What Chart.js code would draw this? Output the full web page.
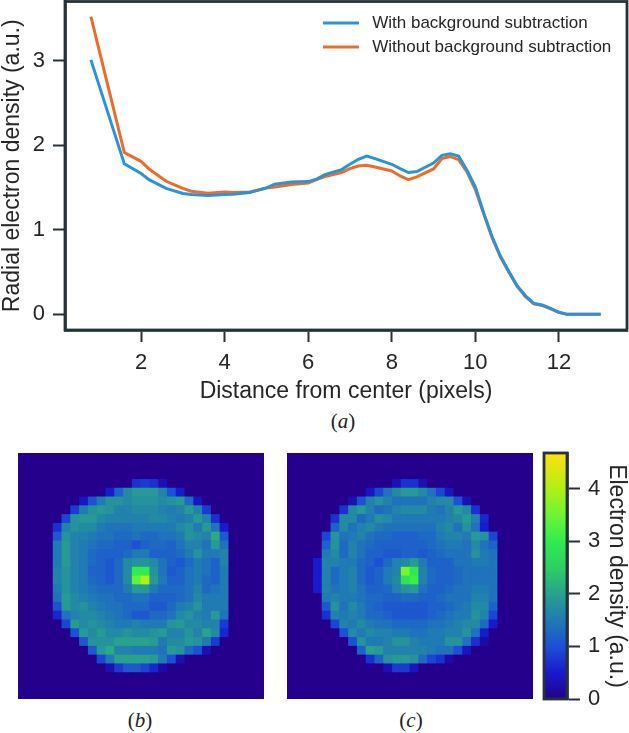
<!DOCTYPE html>
<html>
<head>
<meta charset="utf-8">
<title>Radial electron density</title>
<script src="https://cdn.jsdelivr.net/npm/chart.js@4"></script>
<style>
    html, body { margin: 0; padding: 0; background: #fff; }
    #page { position: relative; width: 629px; height: 733px; overflow: hidden; }
    #page canvas { position: absolute; }
    #mapB, #mapC { background: #24008c; }
    .caption { position: absolute; width: 40px; margin-left: -20px; text-align: center; font: 21px "Liberation Serif", serif; color: #222; line-height: 22px; }
</style>
</head>
<body>
<div id="page">
    <div style="position:absolute;left:0;top:0;width:629px;height:405px"><canvas id="profileChart"></canvas></div>
    <div style="position:absolute;left:18px;top:453px;width:246px;height:246px"><canvas id="mapB"></canvas></div>
    <div style="position:absolute;left:287px;top:453px;width:246px;height:246px"><canvas id="mapC"></canvas></div>
    <div style="position:absolute;left:530px;top:445px;width:99px;height:288px"><canvas id="colorbar"></canvas></div>
    <div class="caption" style="left:343px;top:410px">(<i>a</i>)</div>
    <div class="caption" style="left:140px;top:709px">(<i>b</i>)</div>
    <div class="caption" style="left:411px;top:709px">(<i>c</i>)</div>
</div>
<script>
// Radial profile
const radius = [0.8, 1.6, 2.0, 2.2, 2.6, 3.0, 3.2, 3.6, 4.0, 4.2, 4.6, 5.0, 5.2, 5.6, 6.0, 6.2, 6.4, 6.8, 7.0, 7.2, 7.4, 7.6, 8.0, 8.2, 8.4, 8.6, 9.0, 9.2, 9.4, 9.6, 9.8, 10.0, 10.2, 10.4, 10.6, 10.8, 11.0, 11.2, 11.4, 11.6, 11.8, 12.0, 12.2, 13.0];
const withBackground = [3.01, 1.78, 1.665, 1.59, 1.49, 1.43, 1.417, 1.405, 1.417, 1.42, 1.44, 1.495, 1.539, 1.566, 1.57, 1.60, 1.653, 1.712, 1.775, 1.834, 1.873, 1.842, 1.775, 1.724, 1.677, 1.689, 1.79, 1.88, 1.90, 1.873, 1.704, 1.507, 1.20, 0.92, 0.69, 0.51, 0.34, 0.22, 0.13, 0.11, 0.07, 0.025, 0.0, 0.0];
const withoutBackground = [3.52, 1.913, 1.81, 1.716, 1.574, 1.49, 1.456, 1.433, 1.448, 1.44, 1.448, 1.495, 1.507, 1.535, 1.554, 1.594, 1.63, 1.677, 1.724, 1.755, 1.763, 1.743, 1.696, 1.637, 1.594, 1.625, 1.72, 1.842, 1.866, 1.83, 1.684, 1.476, 1.19, 0.91, 0.68, 0.50, 0.33, 0.21, 0.125, 0.105, 0.065, 0.025, 0.0, 0.0];
const xTicks = [2, 4, 6, 8, 10, 12];
const yTicks = [0, 1, 2, 3];
const barTicks = [0, 1, 2, 3, 4];

// Electron density maps, 28 x 28 cells, rows top to bottom
const mapRowsB = [
    [0,0,0,0,0,0,0,0,0,0,0,0,0,0,0,0,0,0,0,0,0,0,0,0,0,0,0,0],
    [0,0,0,0,0,0,0,0,0,0,0,0,0,0,0,0,0,0,0,0,0,0,0,0,0,0,0,0],
    [0,0,0,0,0,0,0,0,0,0,0,0,0,0,0,0,0,0,0,0,0,0,0,0,0,0,0,0],
    [0,0,0,0,0,0,0,0,0,0,0,0,0,.7,.8,.7,.3,0,0,0,0,0,0,0,0,0,0,0],
    [0,0,0,0,0,0,0,0,0,0,.5,1.2,1.7,1.9,1.9,1.9,1.6,1.0,.5,0,0,0,0,0,0,0,0,0],
    [0,0,0,0,0,0,0,.4,1.0,1.5,1.8,1.8,1.7,1.8,1.8,1.8,1.7,1.8,1.9,1.3,.4,0,0,0,0,0,0,0],
    [0,0,0,0,0,0,.8,1.5,1.8,1.9,1.8,1.6,1.6,1.7,1.7,1.7,1.6,1.5,1.6,1.9,1.6,.8,0,0,0,0,0,0],
    [0,0,0,0,0,.9,1.8,1.9,1.9,1.7,1.6,1.6,1.6,1.6,1.6,1.7,1.7,1.6,1.5,1.6,1.9,1.6,.7,0,0,0,0,0],
    [0,0,0,0,.7,1.6,1.8,1.7,1.7,1.5,1.4,1.4,1.4,1.5,1.5,1.5,1.5,1.5,1.7,1.8,1.5,1.9,1.4,.5,0,0,0,0],
    [0,0,0,0,1.1,1.8,1.6,1.6,1.5,1.4,1.4,1.3,1.3,1.4,1.3,1.3,1.4,1.4,1.5,1.8,1.7,1.6,2.1,1.1,0,0,0,0],
    [0,0,0,0,1.5,1.9,1.6,1.5,1.4,1.3,1.3,1.2,1.2,1.0,1.2,1.3,1.3,1.2,1.4,1.6,1.6,1.4,1.9,1.4,0,0,0,0],
    [0,0,0,0,1.5,1.9,1.6,1.5,1.3,1.2,1.2,1.2,1.3,1.5,1.5,1.2,1.2,1.2,1.3,1.5,1.8,1.5,1.5,1.6,0,0,0,0],
    [0,0,0,0,1.5,1.9,1.6,1.5,1.3,1.2,1.1,1.3,1.7,1.8,1.8,1.7,1.4,1.2,1.1,1.3,1.5,1.4,1.2,1.6,0,0,0,0],
    [0,0,0,0,1.6,1.8,1.6,1.5,1.2,1.2,1.1,1.3,1.7,3.0,3.0,1.8,1.4,1.1,1.2,1.4,1.5,1.4,1.2,1.5,0,0,0,0],
    [0,0,0,0,1.6,1.8,1.6,1.5,1.3,1.2,1.1,1.3,1.7,3.4,4.0,1.9,1.5,1.2,1.2,1.4,1.5,1.3,1.2,1.5,0,0,0,0],
    [0,0,0,0,1.5,1.8,1.6,1.5,1.4,1.3,1.3,1.3,1.5,1.9,1.9,1.5,1.3,1.3,1.3,1.4,1.6,1.3,1.4,1.5,0,0,0,0],
    [0,0,0,0,1.4,1.9,1.7,1.6,1.5,1.4,1.4,1.3,1.3,1.4,1.4,1.2,1.2,1.2,1.3,1.4,1.7,1.5,1.5,1.5,0,0,0,0],
    [0,0,0,0,1.0,1.9,1.7,1.8,1.6,1.5,1.4,1.4,1.3,1.3,1.3,1.1,1.1,1.3,1.5,1.6,1.8,1.5,1.5,1.5,0,0,0,0],
    [0,0,0,0,.6,1.4,1.6,1.7,1.7,1.6,1.5,1.4,1.3,1.1,1.1,1.3,1.3,1.4,1.7,1.8,1.6,1.5,1.9,1.4,0,0,0,0],
    [0,0,0,0,0,.9,1.9,1.7,1.8,1.7,1.6,1.5,1.5,1.6,1.5,1.5,1.5,1.8,1.9,1.7,1.7,1.6,1.6,.8,0,0,0,0],
    [0,0,0,0,0,0,1.0,1.9,1.7,1.9,1.7,1.7,1.8,1.7,1.7,1.8,1.9,1.6,1.6,1.8,1.6,2.0,1.7,.6,0,0,0,0],
    [0,0,0,0,0,0,0,1.1,1.8,1.8,1.8,2.0,2.0,2.0,2.0,1.9,1.5,1.7,1.7,1.9,1.8,1.5,.8,0,0,0,0,0],
    [0,0,0,0,0,0,0,0,1.1,1.9,2.1,1.6,1.6,1.5,1.5,1.5,1.4,1.9,1.8,1.3,1.0,.3,0,0,0,0,0,0],
    [0,0,0,0,0,0,0,0,0,.9,1.5,2.0,2.0,2.0,2.0,1.9,1.5,1.0,.3,0,0,0,0,0,0,0,0,0],
    [0,0,0,0,0,0,0,0,0,0,.3,.8,1.1,1.1,.9,.6,.2,0,0,0,0,0,0,0,0,0,0,0],
    [0,0,0,0,0,0,0,0,0,0,0,0,0,0,0,0,0,0,0,0,0,0,0,0,0,0,0,0],
    [0,0,0,0,0,0,0,0,0,0,0,0,0,0,0,0,0,0,0,0,0,0,0,0,0,0,0,0],
    [0,0,0,0,0,0,0,0,0,0,0,0,0,0,0,0,0,0,0,0,0,0,0,0,0,0,0,0]
];
const mapRowsC = [
    [0,0,0,0,0,0,0,0,0,0,0,0,0,0,0,0,0,0,0,0,0,0,0,0,0,0,0,0],
    [0,0,0,0,0,0,0,0,0,0,0,0,0,0,0,0,0,0,0,0,0,0,0,0,0,0,0,0],
    [0,0,0,0,0,0,0,0,0,0,0,0,0,0,0,0,0,0,0,0,0,0,0,0,0,0,0,0],
    [0,0,0,0,0,0,0,0,0,0,0,0,.3,.7,.7,.3,0,0,0,0,0,0,0,0,0,0,0,0],
    [0,0,0,0,0,0,0,0,0,.4,.9,1.4,1.7,1.9,1.9,1.7,1.4,.9,.4,0,0,0,0,0,0,0,0,0],
    [0,0,0,0,0,0,0,.3,1.0,1.6,1.8,1.6,1.4,1.4,1.4,1.4,1.6,1.7,1.7,1.0,.3,0,0,0,0,0,0,0],
    [0,0,0,0,0,0,.7,1.7,1.9,1.6,1.3,1.4,1.6,1.7,1.7,1.7,1.5,1.4,1.6,1.9,1.7,.7,0,0,0,0,0,0],
    [0,0,0,0,0,.7,1.7,1.7,1.3,1.5,1.8,1.7,1.5,1.5,1.5,1.5,1.5,1.5,1.6,1.7,1.9,1.6,.6,0,0,0,0,0],
    [0,0,0,0,0,1.2,1.7,1.4,1.6,1.7,1.5,1.4,1.4,1.4,1.4,1.4,1.4,1.6,1.7,1.4,1.8,1.4,.5,0,0,0,0,0],
    [0,0,0,0,.9,1.8,1.4,1.5,1.6,1.4,1.3,1.3,1.2,1.2,1.2,1.3,1.3,1.5,1.6,1.6,1.5,1.9,1.8,.9,0,0,0,0],
    [0,0,0,0,1.2,1.8,1.3,1.6,1.4,1.3,1.2,1.2,1.2,1.2,1.2,1.2,1.3,1.4,1.5,1.5,1.4,1.7,1.4,1.2,0,0,0,0],
    [0,0,0,0,1.5,1.7,1.3,1.6,1.4,1.2,1.2,1.1,1.1,1.2,1.2,1.1,1.2,1.3,1.4,1.4,1.4,1.8,1.5,1.4,0,0,0,0],
    [0,0,0,.5,1.6,1.6,1.5,1.5,1.3,1.2,1.0,1.3,1.6,1.7,1.9,1.5,1.2,1.2,1.2,1.4,1.4,1.5,1.5,1.4,0,0,0,0],
    [0,0,0,.5,1.6,1.3,1.5,1.6,1.3,1.1,1.2,1.5,1.6,3.6,2.9,1.6,1.3,1.2,1.2,1.3,1.4,1.4,1.4,1.4,0,0,0,0],
    [0,0,0,.5,1.6,1.3,1.5,1.6,1.3,1.1,1.2,1.5,1.7,2.8,3.1,1.6,1.3,1.2,1.2,1.3,1.4,1.4,1.4,1.4,0,0,0,0],
    [0,0,0,.5,1.6,1.4,1.5,1.6,1.4,1.2,1.2,1.3,1.6,1.8,1.9,1.4,1.2,1.2,1.3,1.4,1.4,1.5,1.5,1.4,0,0,0,0],
    [0,0,0,0,1.5,1.6,1.5,1.5,1.4,1.3,1.3,1.2,1.2,1.3,1.3,1.2,1.2,1.3,1.4,1.4,1.4,1.6,1.6,1.4,0,0,0,0],
    [0,0,0,0,1.1,1.8,1.4,1.7,1.5,1.3,1.2,1.1,1.1,1.1,1.1,1.1,1.2,1.2,1.3,1.4,1.5,1.7,1.7,1.2,0,0,0,0],
    [0,0,0,0,.7,1.6,1.5,1.6,1.5,1.3,1.3,1.2,1.1,1.1,1.1,1.1,1.2,1.3,1.4,1.5,1.5,1.8,1.6,.9,0,0,0,0],
    [0,0,0,0,0,.9,1.6,1.5,1.7,1.5,1.4,1.4,1.3,1.3,1.3,1.3,1.4,1.4,1.5,1.6,1.7,1.7,1.3,.5,0,0,0,0],
    [0,0,0,0,0,0,1.0,1.7,1.5,1.7,1.6,1.6,1.5,1.5,1.4,1.4,1.5,1.5,1.6,1.6,1.8,1.4,.5,0,0,0,0,0],
    [0,0,0,0,0,0,0,1.0,1.8,1.5,1.5,1.6,1.8,1.8,1.6,1.5,1.5,1.5,1.8,1.8,1.4,.7,.2,0,0,0,0,0],
    [0,0,0,0,0,0,0,0,1.2,2.0,1.9,1.6,1.6,1.6,1.6,1.6,1.5,1.4,1.4,1.0,.4,0,0,0,0,0,0,0],
    [0,0,0,0,0,0,0,0,0,.7,1.2,1.8,1.9,1.9,1.8,1.3,.9,.7,.2,0,0,0,0,0,0,0,0,0],
    [0,0,0,0,0,0,0,0,0,0,0,.3,.8,.8,.4,0,0,0,0,0,0,0,0,0,0,0,0,0],
    [0,0,0,0,0,0,0,0,0,0,0,0,0,0,0,0,0,0,0,0,0,0,0,0,0,0,0,0],
    [0,0,0,0,0,0,0,0,0,0,0,0,0,0,0,0,0,0,0,0,0,0,0,0,0,0,0,0],
    [0,0,0,0,0,0,0,0,0,0,0,0,0,0,0,0,0,0,0,0,0,0,0,0,0,0,0,0]
];

// Colour scale of the maps and of the colorbar
const densityMax = 4.68;
const colorValues = [0, 0.5, 1, 1.5, 2, 2.5, 3, 3.5, 4, 4.68];
const colorStops = [[36, 0, 140], [24, 26, 205], [28, 80, 214], [32, 122, 180], [40, 162, 140], [44, 208, 96], [48, 236, 80], [110, 245, 50], [176, 240, 20], [255, 224, 16]];

const inkColor = '#262626';
const frameColor = '#263238';

Chart.defaults.font.family = '"Liberation Sans", Arial, sans-serif';
Chart.defaults.color = inkColor;
Chart.defaults.animation = false;
Chart.defaults.responsive = true;
Chart.defaults.maintainAspectRatio = false;
Chart.defaults.plugins.tooltip.enabled = false;

function densityColor(v) {
    let i = 0;
    while (i < colorValues.length - 2 && v > colorValues[i + 1]) i++;
    const t = Math.min(1, (v - colorValues[i]) / (colorValues[i + 1] - colorValues[i]));
    const c = colorStops[i].map((a, k) => Math.round(a + (colorStops[i + 1][k] - a) * t));
    return 'rgb(' + c.join(',') + ')';
}

// Closed frame round the plot area, Chart.js only draws the axis side
const boxFrame = {
    id: 'boxFrame',
    afterDatasetsDraw(chart) {
        const a = chart.chartArea;
        const ctx = chart.ctx;
        ctx.save();
        ctx.strokeStyle = frameColor;
        ctx.lineWidth = 2.8;
        ctx.strokeRect(a.left, a.top, a.right - a.left, a.bottom - a.top);
        ctx.restore();
    }
};

// Legend sits inside the plot, towards the upper right
const legendPlace = {
    id: 'legendPlace',
    afterLayout(chart) {
        chart.legend.left = 316;
        chart.legend.top = 7.5;
    }
};

// Stop the tick labels from pushing the plot area in
function dropPadding(scale) {
    scale.paddingTop = 0;
    scale.paddingBottom = 0;
}

new Chart(document.getElementById('profileChart'), {
    type: 'line',
    plugins: [boxFrame, legendPlace],
    data: {
        datasets: [
            { label: 'With background subtraction', data: radius.map((x, i) => ({ x: x, y: withBackground[i] })), borderColor: '#2b93d8', backgroundColor: '#2b93d8' },
            { label: 'Without background subtraction', data: radius.map((x, i) => ({ x: x, y: withoutBackground[i] })), borderColor: '#ee6c28', backgroundColor: '#ee6c28' }
        ]
    },
    options: {
        layout: { autoPadding: false, padding: { top: 1.5, right: 2, left: 0, bottom: 0 } },
        elements: {
            point: { radius: 0 },
            line: { borderWidth: 3, tension: 0, borderCapStyle: 'butt' }
        },
        scales: {
            x: {
                type: 'linear',
                min: 0.18,
                max: 13.63,
                afterBuildTicks: s => { s.ticks = xTicks.map(v => ({ value: v })); },
                afterFit: s => { s.height = 75; s.paddingLeft = 0; s.paddingRight = 0; },
                grid: { display: true, drawOnChartArea: false, tickLength: 12, tickWidth: 2, tickColor: frameColor },
                border: { color: frameColor, width: 2.8 },
                ticks: { font: { size: 22 }, color: inkColor, padding: 8, maxRotation: 0 },
                title: { display: true, text: 'Distance from center (pixels)', font: { size: 23 }, color: inkColor, padding: { top: 0, bottom: 0 } }
            },
            y: {
                type: 'linear',
                min: -0.185,
                max: 3.70,
                afterBuildTicks: s => { s.ticks = yTicks.map(v => ({ value: v })); },
                afterFit: s => { s.width = 65; dropPadding(s); },
                grid: { display: true, drawOnChartArea: false, tickLength: 12, tickWidth: 2, tickColor: frameColor },
                border: { color: frameColor, width: 2.8 },
                ticks: { font: { size: 22 }, color: inkColor, padding: 8 },
                title: { display: true, text: 'Radial electron density (a.u.)', font: { size: 23 }, color: inkColor, padding: { top: -1, bottom: 0 } }
            }
        },
        plugins: {
            legend: {
                position: 'chartArea',
                align: 'start',
                labels: {
                    boxWidth: 36,
                    boxHeight: 0,
                    padding: 7,
                    color: inkColor,
                    font: { size: 17 },
                    generateLabels: chart => Chart.defaults.plugins.legend.labels.generateLabels(chart).map(l => { l.text = ' ' + l.text; return l; })
                }
            }
        }
    }
});

function drawMap(canvasId, rows) {
    const cells = [];
    const colors = [];
    rows.forEach((row, r) => row.forEach((v, c) => {
        cells.push({ x: c + 0.5, y: r + 0.5 });
        colors.push(densityColor(v));
    }));
    new Chart(document.getElementById(canvasId), {
        type: 'scatter',
        data: { datasets: [{ data: cells, pointStyle: 'rect', pointBackgroundColor: colors, pointBorderWidth: 0, pointRadius: (246 / 28 / 2 + 0.4) / Math.SQRT1_2 }] },
        options: {
            layout: { autoPadding: false, padding: 0 },
            scales: {
                x: { display: false, min: 0, max: rows[0].length },
                y: { display: false, min: 0, max: rows.length, reverse: true }
            },
            plugins: { legend: { display: false } }
        }
    });
}
drawMap('mapB', mapRowsB);
drawMap('mapC', mapRowsC);

new Chart(document.getElementById('colorbar'), {
    type: 'bar',
    plugins: [boxFrame],
    data: {
        labels: ['Electron density'],
        datasets: [{
            data: [[0, densityMax]],
            barPercentage: 1,
            categoryPercentage: 1,
            backgroundColor: ctx => {
                const chart = ctx.chart;
                if (!chart.chartArea) return densityColor(0);
                const s = chart.scales.y;
                const g = chart.ctx.createLinearGradient(0, s.getPixelForValue(0), 0, s.getPixelForValue(densityMax));
                colorValues.forEach(v => g.addColorStop(v / densityMax, densityColor(v)));
                return g;
            }
        }]
    },
    options: {
        layout: { autoPadding: false, padding: { left: 14, top: 8, bottom: 34, right: 0 } },
        scales: {
            x: { display: false },
            y: {
                position: 'right',
                min: 0,
                max: densityMax,
                afterBuildTicks: s => { s.ticks = barTicks.map(v => ({ value: v })); },
                afterFit: s => { s.width = 62; dropPadding(s); },
                grid: { display: true, drawOnChartArea: false, tickLength: 13, tickWidth: 2, tickColor: frameColor },
                border: { color: frameColor, width: 2.8 },
                ticks: { font: { size: 22 }, color: inkColor, padding: 8 },
                title: { display: true, text: 'Electron density (a.u.)', font: { size: 23 }, color: inkColor, padding: { top: -1, bottom: 0 } }
            }
        },
        plugins: { legend: { display: false } }
    }
});
</script>
</body>
</html>
